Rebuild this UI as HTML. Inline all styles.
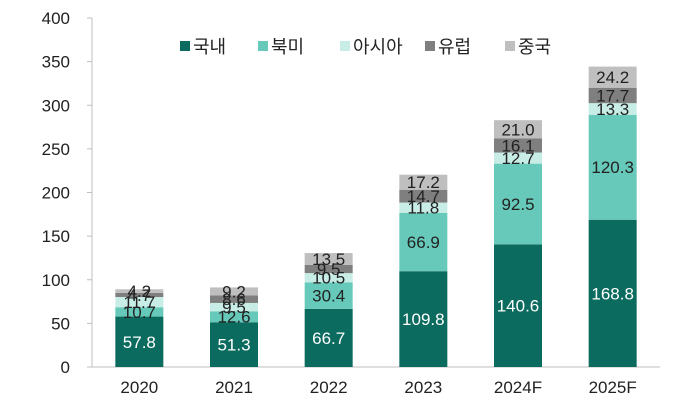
<!DOCTYPE html>
<html><head><meta charset="utf-8"><style>
body{margin:0;background:#fff;font-family:"Liberation Sans","Noto Sans CJK KR",sans-serif}
svg text{font-family:"Liberation Sans","Noto Sans CJK KR",sans-serif}
</style></head><body>
<svg id="c" width="680" height="403"></svg>
<script>
const categories=["2020","2021","2022","2023","2024F","2025F"];
const seriesNames=["국내","북미","아시아","유럽","중국"];
const domestic=[57.8,51.3,66.7,109.8,140.6,168.8];
const northAmerica=[10.7,12.6,30.4,66.9,92.5,120.3];
const asia=[11.7,9.5,10.5,11.8,12.7,13.3];
const europe=[4.7,8.6,9.5,14.7,16.1,17.7];
const china=[4.2,9.2,13.5,17.2,21.0,24.2];
const yTicks=[0,50,100,150,200,250,300,350,400];
const series=[domestic,northAmerica,asia,europe,china];
const colors=["#0b6b5f","#67c9b9","#c8ede7","#7f7f7f","#bfbfbf"];
const textColors=["#fff","#222","#222","#222","#222"];
const svg=document.getElementById('c');
const NS="http://www.w3.org/2000/svg";
const x0=92,x1=660,yBase=367,yTop=18,yMax=400;
const y=v=>yBase-(v/yMax)*(yBase-yTop);
const band=(x1-x0)/categories.length;
const xc=i=>x0+band*(i+0.5);
const bw=48;
function mk(t,a){const e=document.createElementNS(NS,t);for(const k in a)e.setAttribute(k,a[k]);svg.appendChild(e);return e;}
let ax=mk('line',{x1:x0,y1:yTop,x2:x0,y2:yBase,stroke:'#bfbfbf'});


let bx=mk('line',{x1:x0,y1:yBase,x2:x1,y2:yBase,stroke:'#bfbfbf'});


yTicks.forEach(v=>{
 let tk=mk('line',{x1:x0-5,y1:y(v),x2:x0,y2:y(v),stroke:'#bfbfbf'});
 
 
 let t=mk('text',{x:70,y:y(v)+6,'text-anchor':'end','font-size':17,fill:'#222'});
 t.textContent=v;
 
 
});
categories.forEach((c,i)=>{
 let t=mk('text',{x:xc(i),y:393,'text-anchor':'middle','font-size':17,fill:'#222'});
 t.textContent=c;
 
 
 let cum=0;
 series.forEach((s,k)=>{
  const v=s[i];
  let r=mk('rect',{x:xc(i)-bw/2,y:y(cum+v),width:bw,height:y(cum)-y(cum+v),fill:colors[k]});
  
  
  cum+=v;
 });
 cum=0;
 series.forEach((s,k)=>{
  const v=s[i];
  let l=mk('text',{x:xc(i),y:(y(cum)+y(cum+v))/2+6,'text-anchor':'middle','font-size':17,fill:textColors[k]});
  l.textContent=v.toFixed(1);
  
  
  cum+=v;
 });
});
const lx=[180,258,340,425,505];
seriesNames.forEach((n,k)=>{
 let r=mk('rect',{x:lx[k],y:41,width:10,height:10,fill:colors[k]});
 
 
 let t=mk('text',{x:lx[k]+13,y:53,'font-size':18,fill:'#222'});
 t.textContent=n;
 
 
});
</script>
</body></html>
